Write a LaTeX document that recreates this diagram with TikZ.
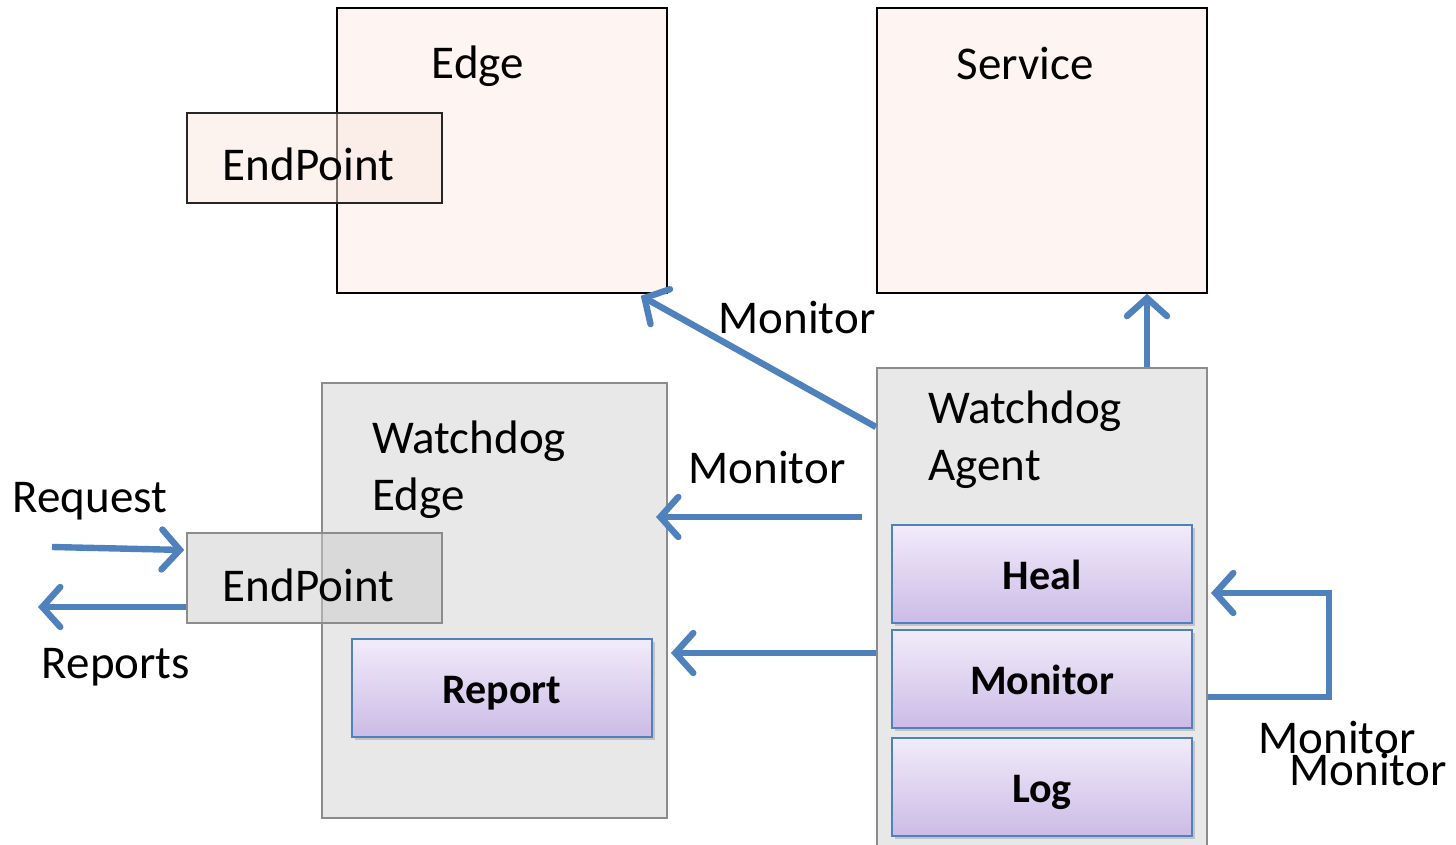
\documentclass[tikz,border=0pt]{standalone}
\usepackage{fontspec}
\setmainfont{Carlito}
\usetikzlibrary{arrows.meta, positioning, shadows}

\definecolor{flowblue}{RGB}{79,129,189}
\definecolor{hostpink}{RGB}{254,245,242}
\definecolor{eppink}{RGB}{250,230,222}
\definecolor{wdgray}{RGB}{232,232,232}
\definecolor{wdline}{RGB}{140,140,140}
\definecolor{modtop}{RGB}{241,236,250}
\definecolor{modbot}{RGB}{204,187,230}

\newcommand{\eptext}{\hspace{-6pt}\raisebox{-11.5pt}[0pt][0pt]{EndPoint}}

\begin{document}
\begin{tikzpicture}[x=0.5pt, y=-0.5pt,
  every node/.style={inner sep=0pt, font=\fontsize{23.5}{28.5}\selectfont},
  host/.style={draw=black, line width=0.8pt, fill=hostpink, minimum width=165pt, minimum height=142.5pt},
  wdbox/.style={draw=wdline, line width=1pt, fill=wdgray},
  epbox/.style={line width=0.8pt, fill opacity=0.5, text opacity=1, minimum width=127.5pt, minimum height=45pt},
  module/.style={draw=flowblue, line width=1pt, top color=modtop, bottom color=modbot,
    minimum width=150pt, minimum height=49pt, text height=18pt, text depth=2.5pt,
    font=\fontsize{21}{25}\selectfont\bfseries,
    drop shadow={shadow xshift=1.5pt, shadow yshift=-1.5pt, opacity=0.35}},
  flow/.style={draw=flowblue, line width=3.2pt, -{Straight Barb[length=9pt, width=20pt, line cap=round]}}
]
\clip (0,0) rectangle (1456,845);

% top row
\node[host] (edge) at (502,150.5) {};
\node[host] (service) at (1042,150.5) {};
\node (edgename) at (478,66) {Edge};
\node (servicename) at (1025,63) {Service};
\node[epbox, draw=black!85, fill=eppink] (ep1) at (314.5,158) {\eptext};

% watchdog edge
\node[wdbox, minimum width=172.5pt, minimum height=217.5pt] (wdedge) at (494.5,600.5) {};
\node[anchor=north west, align=left] (wdedgename) at (372,420) {Watchdog\\Edge};
\node[epbox, draw=wdline, fill=black!20] (ep2) at (314.5,578) {\eptext};
\node[module] (report) at (502,687.5) {Report};

% watchdog agent
\node[wdbox, minimum width=165pt, minimum height=246pt] (agent) at (1042,614) {};
\node[anchor=north west, align=left] (agentname) at (928,390) {Watchdog\\Agent};
\node[module] (heal) at (1042,574) {Heal};
\node[module] (monitor) at (1042,679) {Monitor};
\node[module] (log) at (1042,787) {Log};

% connectors
\coordinate (monin) at (862,517);
\coordinate (repline) at (0,653);
\coordinate (reqin) at (52,547);
\coordinate (repout) at (38,607);

\draw[flow] ([yshift=-30pt]agent.north west) -- ([xshift=-13.5pt, yshift=-1pt]edge.south east);
\draw[flow] ([xshift=52.5pt]agent.north) -- ([xshift=52.5pt]service.south);
\draw[flow] (monin) -- ([xshift=-6pt]wdedge.east |- monin);
\draw[flow] (agent.west |- repline) -- ([xshift=1.5pt]wdedge.east |- repline);
\draw[flow] ([yshift=-9pt]agent.east |- monitor) -- ++(121,0) |- ([xshift=1.5pt, yshift=-9.5pt]agent.east |- heal);
\draw[flow] (reqin) -- ([xshift=-1pt, yshift=14pt]ep2.west);
\draw[flow] ([yshift=-14.5pt]ep2.west) -- (repout);

% labels
\node (lblmon1) at (797,318) {Monitor};
\node (lblmon2) at (767,468) {Monitor};
\node (lblreq) at (90,501) {Request};
\node (lblrep) at (116,667) {Reports};
\node (lblmon3) at (1337,737) {Monitor};
\node (lblmon4) at (1368,769) {Monitor};
\end{tikzpicture}
\end{document}
